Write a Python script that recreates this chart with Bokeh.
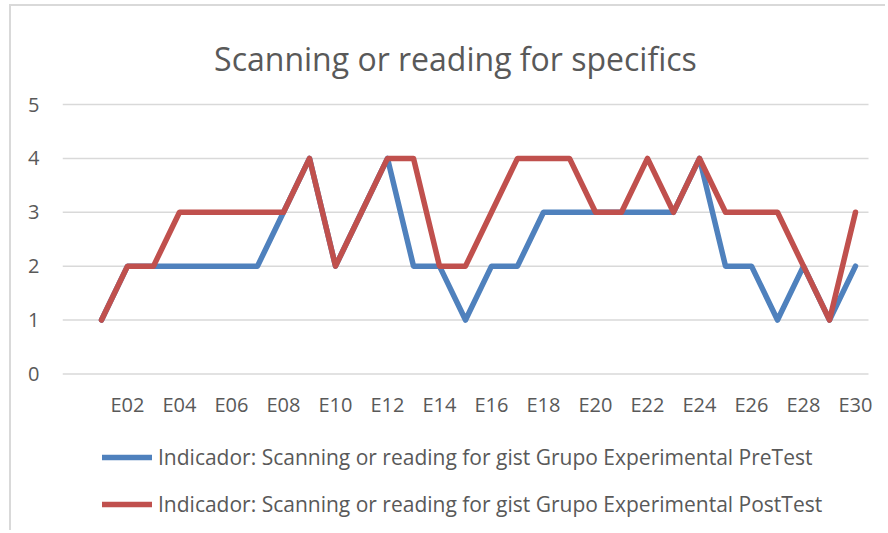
from bokeh.plotting import figure
from bokeh.models import Range1d, FixedTicker, Legend, LegendItem, ColumnDataSource, Label
from bokeh.embed import file_html
from bokeh.resources import INLINE

title = "Scanning or reading for specifics"
categories = ["E01", "E02", "E03", "E04", "E05", "E06", "E07", "E08", "E09", "E10",
              "E11", "E12", "E13", "E14", "E15", "E16", "E17", "E18", "E19", "E20",
              "E21", "E22", "E23", "E24", "E25", "E26", "E27", "E28", "E29", "E30"]
pretest = [1, 2, 2, 2, 2, 2, 2, 3, 4, 2, 3, 4, 2, 2, 1, 2, 2, 3, 3, 3,
           3, 3, 3, 4, 2, 2, 1, 2, 1, 2]
posttest = [1, 2, 2, 3, 3, 3, 3, 3, 4, 2, 3, 4, 4, 2, 2, 3, 4, 4, 4, 3,
            3, 4, 3, 4, 3, 3, 3, 2, 1, 3]
series_names = ["Indicador: Scanning or reading for gist Grupo Experimental PreTest",
                "Indicador: Scanning or reading for gist Grupo Experimental PostTest"]
y_ticks = [0, 1, 2, 3, 4, 5]

FONT = "Open Sans"
TXT = "#595959"

# layout (pixels inside the canvas)
W, H = 876, 526
PX_PER_UNIT = 53.88          # vertical pixels per value unit
Y0_PIX = 367.4               # canvas y of value 0
y_top = (Y0_PIX) / PX_PER_UNIT
y_bot = -(H - Y0_PIX) / PX_PER_UNIT

# positions: slot 0 is an empty category, categories start at slot 1
xpos = list(range(1, len(categories) + 1))
src = ColumnDataSource(dict(x=xpos, cat=categories, pre=pretest, post=posttest))

x_lo, x_hi = -0.5, len(categories) + 0.5
p = figure(width=W, height=H, output_backend="svg", toolbar_location=None,
           x_range=Range1d(x_lo, x_hi + 0.5),
           y_range=Range1d(y_bot, y_top),
           min_border_left=51, min_border_right=6, min_border_top=0, min_border_bottom=0)
p.styles = {"border-top": "2px solid #d9d9d9", "border-left": "2px solid #d9d9d9",
            "margin-left": "9px", "margin-top": "4px"}
p.outline_line_color = None
p.background_fill_color = "white"
p.border_fill_color = "white"

# chart title (placed above the value band)
p.add_layout(Label(x=14.615, y=(Y0_PIX - 51.7) / PX_PER_UNIT, text=title,
                   text_align="center", text_baseline="alphabetic",
                   text_font=FONT, text_font_size="32px", text_color=TXT))

# horizontal gridlines, limited to the category band
p.segment(x0=[x_lo] * len(y_ticks), x1=[x_hi] * len(y_ticks), y0=y_ticks, y1=y_ticks,
          line_color="#d9d9d9", line_width=1.5)

r_pre = p.line("x", "pre", source=src, line_color="#4F81BD", line_width=5.5,
               line_join="round", line_cap="round")
r_post = p.line("x", "post", source=src, line_color="#C0504D", line_width=5.5,
                line_join="round", line_cap="round")

# axes
even = [i for i in xpos if i % 2 == 0]
p.xaxis.ticker = FixedTicker(ticks=even)
p.xaxis.major_label_overrides = {i: categories[i - 1] for i in even}
p.xaxis.fixed_location = 0
p.yaxis.ticker = FixedTicker(ticks=y_ticks)
for ax in (p.xaxis, p.yaxis):
    ax.axis_line_color = None
    ax.major_tick_line_color = None
    ax.minor_tick_line_color = None
    ax.major_tick_out = 0
    ax.major_tick_in = 0
    ax.major_label_text_font = FONT
    ax.major_label_text_font_size = "20px"
    ax.major_label_text_color = TXT
p.xaxis.major_label_standoff = 17
p.yaxis.major_label_standoff = 23

p.xgrid.grid_line_color = None
p.ygrid.grid_line_color = None

legend = Legend(items=[LegendItem(label=series_names[0], renderers=[r_pre]),
                       LegendItem(label=series_names[1], renderers=[r_post])],
                location=(40, 14), orientation="vertical",
                padding=0, margin=0, spacing=19, label_height=26, glyph_height=26,
                glyph_width=50, label_standoff=6,
                label_text_font=FONT, label_text_font_size="21px", label_text_color=TXT,
                background_fill_alpha=0, border_line_alpha=0)
p.add_layout(legend, "center")

open("out.html", "w").write(file_html(p, INLINE))
